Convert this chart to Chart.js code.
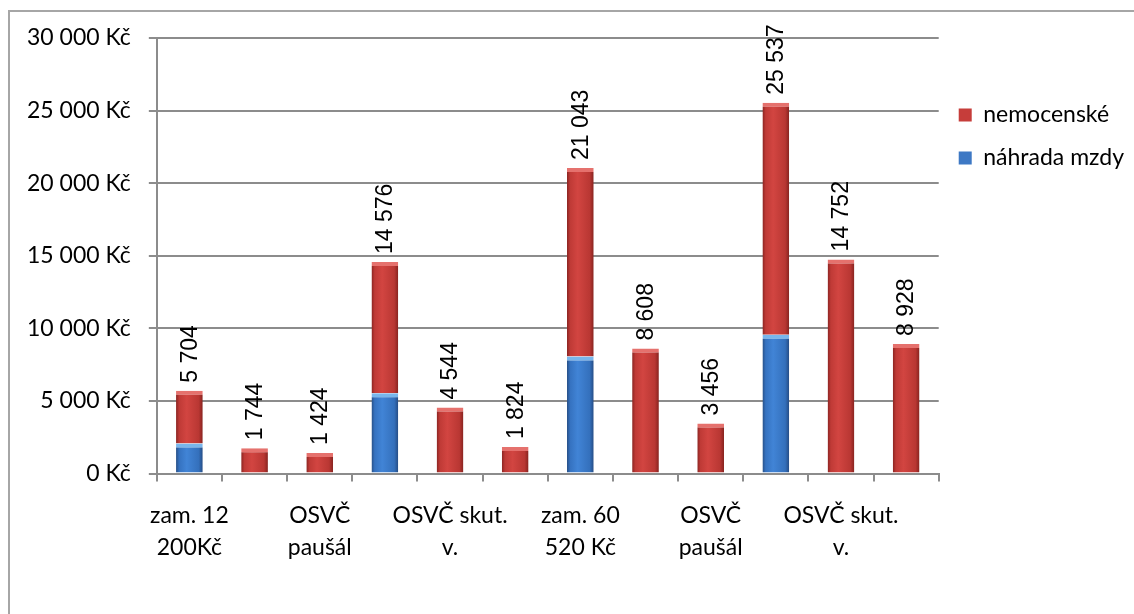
<!DOCTYPE html>
<html lang="cs">
<head>
<meta charset="utf-8">
<script src="https://cdn.jsdelivr.net/npm/chart.js@4/dist/chart.umd.min.js"></script>
<style>
  html, body { margin: 0; padding: 0; background: #fff; }
  #wrap { position: relative; width: 1134px; height: 614px; overflow: hidden; }
  #frame { position: absolute; left: 8px; top: 10px; width: 1200px; height: 700px;
           border-top: 2px solid #a6a6a6; border-left: 2px solid #a6a6a6; }
  canvas { position: absolute; left: 0; top: 0; }
</style>
</head>
<body>
<div id="wrap">
  <div id="frame"></div>
  <canvas id="c" width="1134" height="614"></canvas>
</div>
<script>
// Category labels (Excel showed every second one)
const categories = [
  ["zam. 12", "200Kč"], "", ["OSVČ", "paušál"], "", ["OSVČ skut.", "v."], "",
  ["zam. 60", "520 Kč"], "", ["OSVČ", "paušál"], "", ["OSVČ skut.", "v."], ""
];
// Total benefit per case (Kč)
const totals = [5704, 1744, 1424, 14576, 4544, 1824, 21043, 8608, 3456, 25537, 14752, 8928];
// Wage compensation paid by the employer (Kč)
const nahradaMzdy = [2070, null, null, 5540, null, null, 8060, null, null, 9560, null, null];
// Sickness benefit = total minus wage compensation
const nemocenske = totals.map((t, i) => t - (nahradaMzdy[i] || 0));
// Y axis tick values
const yTicks = [0, 5000, 10000, 15000, 20000, 25000, 30000];

const BAR_FRACTION = 0.41;
const FONT = "Lato";

function fmt(v) {
  return String(v).replace(/\B(?=(\d{3})+(?!\d))/g, " ");
}

// Horizontal shading across each bar, like the Excel bevel style
function barFill(stops, flat) {
  return (c) => {
    const chart = c.chart;
    const xs = chart.scales && chart.scales.x;
    if (!xs || c.type !== "data") return flat;
    const cx = xs.getPixelForValue(c.dataIndex);
    const half = (xs.getPixelForValue(1) - xs.getPixelForValue(0)) * BAR_FRACTION / 2;
    if (!isFinite(cx) || !isFinite(half) || half <= 0) return flat;
    const g = chart.ctx.createLinearGradient(cx - half, 0, cx + half, 0);
    g.addColorStop(0, stops[0]);
    g.addColorStop(0.12, stops[1]);
    g.addColorStop(0.4, stops[2]);
    g.addColorStop(0.85, stops[3]);
    g.addColorStop(1, stops[4]);
    return g;
  };
}

// Totals written vertically above each stack
const totalLabels = {
  id: "totalLabels",
  afterDatasetsDraw(chart) {
    const { ctx, scales: { x, y } } = chart;
    ctx.save();
    ctx.fillStyle = "#000";
    ctx.font = "23px 'Liberation Sans', Arial, sans-serif";
    ctx.textAlign = "left";
    ctx.textBaseline = "middle";
    totals.forEach((t, i) => {
      const px = x.getPixelForValue(i);
      const py = y.getPixelForValue(t);
      ctx.save();
      ctx.translate(px, py - 8);
      ctx.rotate(-Math.PI / 2);
      ctx.fillText(fmt(t), 0, 1);
      ctx.restore();
    });
    ctx.restore();
  }
};

const redFlat = "#c63d3a", blueFlat = "#3d78c4";

new Chart(document.getElementById("c"), {
  type: "bar",
  data: {
    labels: categories,
    datasets: [
      {
        label: "náhrada mzdy",
        data: nahradaMzdy,
        backgroundColor: barFill(["#274f86", "#3572c0", "#4184d6", "#3470bc", "#254c84"], blueFlat),
        borderColor: "#78b6ec",
        borderWidth: { top: 4, left: 0, right: 0, bottom: 0 },
        borderSkipped: false,
        stack: "s"
      },
      {
        label: "nemocenské",
        data: nemocenske,
        backgroundColor: barFill(["#8a2421", "#bf3a36", "#d24541", "#b93733", "#87231f"], redFlat),
        borderColor: "#e5716d",
        borderWidth: { top: 4, left: 0, right: 0, bottom: 0 },
        borderSkipped: false,
        stack: "s"
      }
    ]
  },
  options: {
    responsive: false,
    animation: false,
    devicePixelRatio: 1,
    layout: { padding: { left: 9, top: 38, right: 0, bottom: 32 } },
    datasets: { bar: { categoryPercentage: 1, barPercentage: BAR_FRACTION } },
    plugins: {
      tooltip: { enabled: false },
      legend: {
        position: "right",
        align: "start",
        reverse: true,
        title: { display: true, text: " ", font: { size: 12 }, padding: { top: 0, bottom: 31 } },
        labels: {
          color: "#000",
          font: { family: FONT, size: 23 },
          boxWidth: 13,
          boxHeight: 13,
          padding: 20,
          generateLabels(chart) {
            const cols = [blueFlat, redFlat];
            return chart.data.datasets.map((d, i) => ({
              text: d.label,
              fillStyle: cols[i],
              strokeStyle: cols[i],
              lineWidth: 0,
              hidden: false,
              datasetIndex: i,
              fontColor: "#000"
            }));
          }
        }
      }
    },
    scales: {
      x: {
        stacked: true,
        grid: { display: true, drawOnChartArea: false, drawTicks: true, tickLength: 8, color: "#8c8c8c", lineWidth: 2 },
        border: { display: true, color: "#8c8c8c", width: 2 },
        ticks: {
          color: "#000",
          font: { family: FONT, size: 23, lineHeight: 1.4 },
          padding: 18,
          maxRotation: 0,
          autoSkip: false
        }
      },
      y: {
        stacked: true,
        min: 0,
        max: 30000,
        afterBuildTicks(scale) { scale.ticks = yTicks.map(v => ({ value: v })); },
        grid: { color: "#8c8c8c", lineWidth: 2, tickLength: 8 },
        border: { display: true, color: "#8c8c8c", width: 2 },
        ticks: {
          color: "#000",
          font: { family: FONT, size: 23 },
          padding: 18,
          callback: (v) => fmt(v) + " Kč"
        }
      }
    }
  },
  plugins: [totalLabels]
});
</script>
</body>
</html>
